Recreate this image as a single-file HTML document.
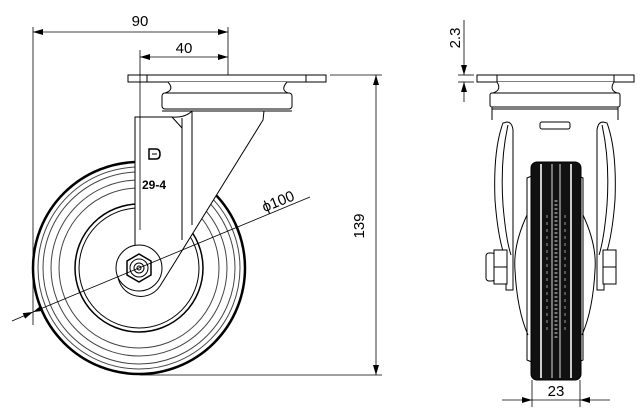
<!DOCTYPE html>
<html><head><meta charset="utf-8"><style>
html,body{margin:0;padding:0;background:#fff;}
svg{display:block;}
text{font-family:"Liberation Sans",sans-serif;fill:#000;}
</style></head><body>
<svg width="641" height="418" viewBox="0 0 641 418" xmlns="http://www.w3.org/2000/svg">
<defs>
<marker id="a" viewBox="0 0 10 6" refX="10" refY="3" markerWidth="10" markerHeight="6" orient="auto-start-reverse" markerUnits="userSpaceOnUse"><path d="M0,0 L10,3 L0,6 z" fill="#000"/></marker>
</defs>
<g fill="none" stroke="#000" stroke-width="1">
<circle cx="139" cy="268" r="106" stroke-width="2.5"/>
<circle cx="139" cy="268" r="101" stroke="#444"/>
<circle cx="139" cy="268" r="96" stroke="#444"/>
<circle cx="139" cy="268" r="88" stroke="#444"/>
<circle cx="139" cy="268" r="80" stroke="#444"/>
<circle cx="139" cy="268" r="64" stroke-width="1.5"/>
<circle cx="139" cy="268" r="60"/>
<rect x="128" y="75" width="198" height="7" fill="#fff"/>
<line x1="147" y1="75" x2="147" y2="82"/><line x1="306" y1="75" x2="306" y2="82"/>
<path d="M168,82 Q175,90 165,93 L288,93 Q280,90 287,82" fill="#fff"/>
<rect x="162" y="93" width="130" height="16" rx="3" fill="#fff"/>
<line x1="162" y1="111" x2="292" y2="111"/>
<!-- fork single shape -->
<path d="M135,117 L172,117 Q185,118 192,111 L264,111 L263,120 L175,262 L160,286 A23,23 0 0 1 118,270 Q120,256 135,250 Z" fill="#fff"/>
<line x1="182" y1="118" x2="182" y2="240"/>
<line x1="192" y1="111" x2="192" y2="225"/>
<line x1="172" y1="117" x2="182" y2="128"/>
<circle cx="139" cy="268" r="23" fill="#fff"/>
<polygon points="139,254 151,261 151,275 139,282 127,275 127,261" fill="#fff" stroke-width="1.5"/>
<circle cx="139" cy="268" r="9"/>
<circle cx="139" cy="268" r="5"/>
<circle cx="139" cy="268" r="2"/>
<path d="M149,149 L156,149 Q160,149 160,154 Q160,159 156,159 L149,159 Z" stroke-width="1.5"/>
<line x1="152" y1="154" x2="157" y2="154"/>
<line x1="33" y1="27" x2="33" y2="325" stroke-width="0.8"/>
<line x1="228" y1="27" x2="228" y2="75" stroke-width="0.8"/>
<line x1="140" y1="50" x2="140" y2="230" stroke-width="0.8"/>
<line x1="33" y1="32" x2="228" y2="32" marker-start="url(#a)" marker-end="url(#a)" stroke-width="0.8"/>
<line x1="140" y1="57" x2="228" y2="57" marker-start="url(#a)" marker-end="url(#a)" stroke-width="0.8"/>
<line x1="330" y1="75" x2="382" y2="75" stroke-width="0.8"/>
<line x1="140" y1="375" x2="382" y2="375" stroke-width="0.8"/>
<line x1="376" y1="75" x2="376" y2="375" marker-start="url(#a)" marker-end="url(#a)" stroke-width="0.8"/>
<line x1="12" y1="321" x2="33" y2="312" stroke-width="0.8" marker-end="url(#a)"/>
<line x1="33" y1="312" x2="240" y2="226" stroke-width="0.8" marker-start="url(#a)"/>
<line x1="240" y1="226" x2="310" y2="197" stroke-width="0.8"/>
<!-- RIGHT VIEW -->
<rect x="477" y="75" width="157" height="7" fill="#fff"/>
<line x1="497" y1="75" x2="497" y2="82"/><line x1="614" y1="75" x2="614" y2="82"/>
<path d="M497,82 Q502,90 493,93 L617,93 Q609,90 614,82" fill="#fff"/>
<rect x="490" y="93" width="130" height="14" rx="2" fill="#fff"/>
<line x1="492" y1="109" x2="618" y2="109"/>
<line x1="492" y1="107" x2="492" y2="120"/><line x1="618" y1="107" x2="618" y2="120"/>
<rect x="540" y="122" width="30" height="7" rx="2"/>
<path d="M503,123 Q493,150 495,200 Q498,240 506,260 L506,290 L513,290 L513,130 Q512,122 507,122 Z" fill="#fff"/>
<path d="M607,123 Q617,150 615,200 Q612,240 604,260 L604,290 L597,290 L597,130 Q598,122 603,122 Z" fill="#fff"/>
<path d="M508,125 Q500,160 503,205 Q506,240 511,255"/>
<path d="M602,125 Q610,160 607,205 Q604,240 599,255"/>
<rect x="486" y="253" width="9" height="28" rx="3" fill="#fff"/>
<rect x="494" y="250" width="13" height="34" fill="#fff"/>
<line x1="494" y1="267" x2="507" y2="267"/>
<rect x="603" y="250" width="13" height="34" fill="#fff"/>
<line x1="603" y1="267" x2="616" y2="267"/>
<path d="M527,178 L534,175 L534,363 L527,360 Z" fill="#fff"/>
<path d="M583,178 L576,175 L576,363 L583,360 Z" fill="#fff"/>
<path d="M527,215 Q513,245 515,270 Q517,310 528,335"/>
<path d="M583,215 Q597,245 595,270 Q593,310 582,335"/>
<rect x="531" y="162" width="50" height="218" rx="6" fill="#111" stroke="#000"/>
<line x1="541" y1="164" x2="541" y2="378" stroke="#ccc" stroke-width="2"/>
<line x1="571" y1="164" x2="571" y2="378" stroke="#ccc" stroke-width="2"/>
<line x1="552" y1="164" x2="552" y2="378" stroke="#999" stroke-width="1.5"/>
<line x1="560" y1="164" x2="560" y2="378" stroke="#999" stroke-width="1.5"/>
<line x1="556" y1="200" x2="556" y2="340" stroke="#777" stroke-width="3" stroke-dasharray="2,2"/>
<line x1="547" y1="215" x2="547" y2="330" stroke="#555" stroke-width="2" stroke-dasharray="3,4"/>
<line x1="565" y1="215" x2="565" y2="330" stroke="#555" stroke-width="2" stroke-dasharray="3,4"/>
<line x1="532" y1="380" x2="532" y2="407" stroke-width="0.8"/>
<line x1="580" y1="380" x2="580" y2="407" stroke-width="0.8"/>
<line x1="502" y1="400" x2="532" y2="400" stroke-width="0.8" marker-end="url(#a)"/>
<line x1="532" y1="400" x2="580" y2="400" stroke-width="0.8"/>
<line x1="610" y1="400" x2="580" y2="400" stroke-width="0.8" marker-end="url(#a)"/>
<line x1="458" y1="75" x2="474" y2="75" stroke-width="0.8"/>
<line x1="458" y1="82" x2="474" y2="82" stroke-width="0.8"/>
<line x1="464" y1="20" x2="464" y2="75" stroke-width="0.8" marker-end="url(#a)"/>
<line x1="464" y1="102" x2="464" y2="82" stroke-width="0.8" marker-end="url(#a)"/>
</g>
<text x="140" y="26" font-size="15" text-anchor="middle">90</text>
<text x="184" y="53" font-size="15" text-anchor="middle">40</text>
<text x="154" y="189" font-size="12" font-weight="bold" text-anchor="middle">29-4</text>
<text transform="translate(364,226) rotate(-90)" font-size="15" text-anchor="middle">139</text>
<text transform="translate(280,206) rotate(-22)" font-size="15" text-anchor="middle">ϕ100</text>
<text x="556" y="396" font-size="15" text-anchor="middle">23</text>
<text transform="translate(460,38) rotate(-90)" font-size="15" text-anchor="middle">2.3</text>
</svg>
</body></html>
